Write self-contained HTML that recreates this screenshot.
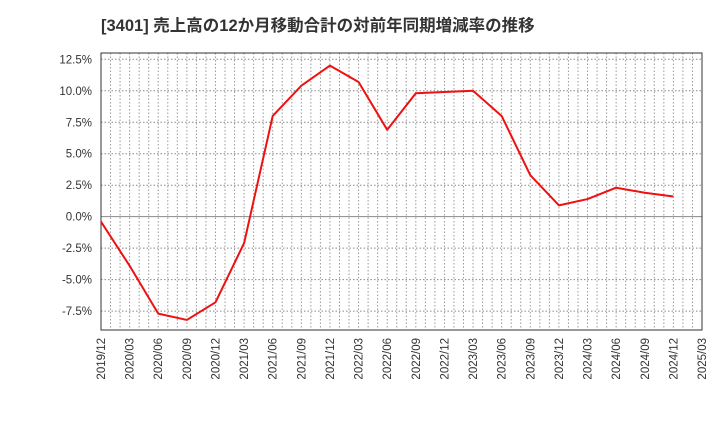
<!DOCTYPE html>
<html><head><meta charset="utf-8"><style>
body{margin:0;background:#fff;}
svg{display:block;font-family:"Liberation Sans","Noto Sans CJK JP",sans-serif;}
</style></head><body>
<svg id="chart" width="720" height="440">
<text x="101" y="31" font-size="16.5" font-weight="bold" fill="#333">[3401]  売上高の12か月移動合計の対前年同期増減率の推移</text>
<g id="grid"></g><g id="axes"></g><g id="series"></g>
</svg>
<script>
const categories=["2019/12","2020/03","2020/06","2020/09","2020/12","2021/03","2021/06","2021/09","2021/12","2022/03","2022/06","2022/09","2022/12","2023/03","2023/06","2023/09","2023/12","2024/03","2024/06","2024/09","2024/12","2025/03"];
const values=[-0.4,-3.9,-7.7,-8.2,-6.8,-2.1,8.0,10.4,12.0,10.7,6.9,9.8,9.9,10.0,8.0,3.3,0.9,1.4,2.3,1.9,1.6];
const yTicks=[12.5,10.0,7.5,5.0,2.5,0.0,-2.5,-5.0,-7.5];
const NS="http://www.w3.org/2000/svg";
const L=101,R=702,T=53,B=330,yMin=-9.0,yMax=13.0;
const x=i=>L+(R-L)*i/(categories.length-1);
const y=v=>B-(v-yMin)/(yMax-yMin)*(B-T);
function mk(tag,attrs,parent){const e=document.createElementNS(NS,tag);for(const k in attrs)e.setAttribute(k,attrs[k]);parent.appendChild(e);return e;}
const grid=document.getElementById('grid'),axes=document.getElementById('axes'),series=document.getElementById('series');
const nMonths=(categories.length-1)*3;
for(let m=1;m<nMonths;m++){const xx=L+(R-L)*m/nMonths;
const l=mk('line',{x1:xx,x2:xx,y1:T,y2:B,stroke:'#999','stroke-dasharray':'1.5,2','stroke-width':1},grid);

}
yTicks.forEach(t=>{const yy=y(t);
const l=mk('line',{x1:L,x2:R,y1:yy,y2:yy,stroke:'#888','stroke-dasharray':t===0?'none':'1.5,2','stroke-width':1},grid);


const tx=mk('text',{x:L-9,y:yy+4,'text-anchor':'end','font-size':11.5,fill:'#333'},axes);
tx.textContent=t.toFixed(1)+'%';

});
categories.forEach((c,i)=>{const xx=x(i);
const tx=mk('text',{x:0,y:0,'text-anchor':'end','font-size':11.5,fill:'#333',transform:`translate(${xx+4},${B+8}) rotate(-90)`},axes);
tx.textContent=c;

});
const frame=mk('rect',{x:L,y:T,width:R-L,height:B-T,fill:'none',stroke:'#333','stroke-width':1},axes);


const pl=mk('polyline',{points:values.map((v,i)=>x(i)+','+y(v)).join(' '),fill:'none',stroke:'#ee1111','stroke-width':2,'stroke-linejoin':'round'},series);


</script>
</body></html>
